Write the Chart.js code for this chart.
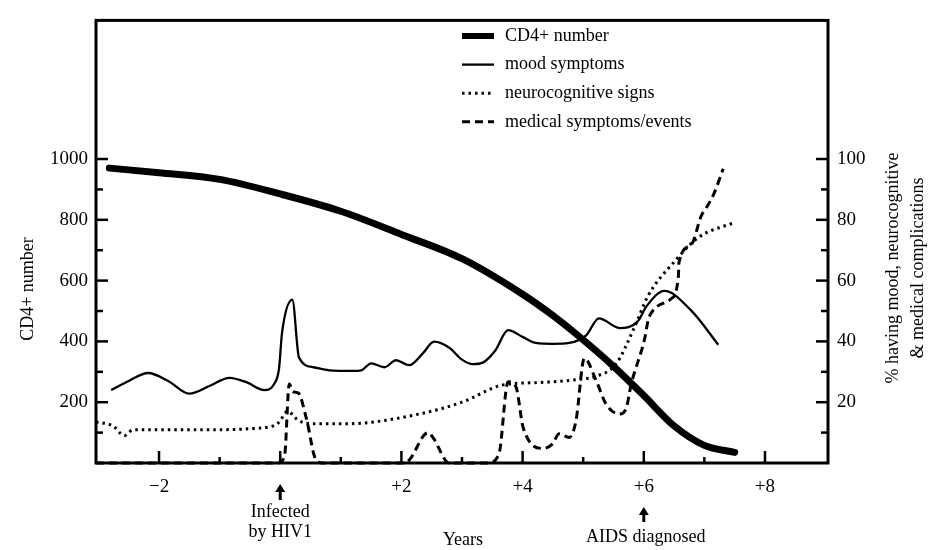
<!DOCTYPE html>
<html>
<head>
<meta charset="utf-8">
<title>CD4+ number and complications over years</title>
<script src="https://cdn.jsdelivr.net/npm/chart.js@4.4.1/dist/chart.umd.min.js"></script>
<style>
  body { margin: 0; background: #fff; }
  canvas { display: block; }
</style>
</head>
<body>
<canvas id="chart" width="933" height="550"></canvas>
<script>
// --- Data (years relative to HIV1 infection) ---
const cd4Years  = [-2.82, -2, -1, 0, 1, 2, 3, 4, 4.5, 5, 5.5, 6, 6.5, 7, 7.5];
const cd4Counts = [970, 955, 933, 885, 828, 752, 672, 555, 485, 405, 318, 222, 122, 58, 35];

const moodYears = [-2.79, -2.5, -2.18, -1.85, -1.5, -1.15, -0.84, -0.55, -0.26, -0.1, -0.02, 0.03, 0.2, 0.31,
                   0.55, 0.81, 1.2, 1.34, 1.5, 1.72, 1.91, 2.13, 2.35, 2.54, 2.79, 3.0, 3.18, 3.35, 3.55,
                   3.76, 4.0, 4.22, 4.5, 4.77, 5.05, 5.26, 5.6, 5.9, 6.04, 6.34, 6.78, 7.23];
const moodPct   = [24, 27, 29.6, 27, 22.8, 25.5, 28, 26.5, 24, 26, 31, 42.8, 53.7, 34.7,
                   31.5, 30.5, 30.3, 30.5, 32.8, 31.5, 33.8, 32.2, 36, 39.9, 37.9, 34, 32.5, 33.1, 37,
                   43.7, 41.5, 39.5, 39.2, 39.5, 42, 47.6, 44.4, 46.6, 51.4, 56.6, 50.2, 38.9];

const neuroYears = [-3.04, -2.76, -2.57, -2.43, -1.39, -0.28, -0.03, 0.12, 0.3, 0.54, 1.09, 2.29, 3.0,
                    3.68, 4.3, 4.93, 5.21, 5.54, 5.84, 6.07, 6.49, 6.91, 7.49];
const neuroPct   = [13.5, 12.2, 9, 10.9, 10.9, 11.6, 13.2, 17, 14, 12.9, 12.9, 16.1, 20,
                    25.7, 26.5, 27.5, 28.5, 32.5, 44.4, 55, 65.9, 74.3, 79.1];

const medYears = [-3.04, -0.05, 0.07, 0.15, 0.21, 0.3, 0.43, 0.59, 0.7, 2.05, 2.13, 2.44, 2.52, 2.79,
                  3.43, 3.61, 3.76, 3.89, 4.01, 4.34, 4.5, 4.6, 4.77, 4.88, 5.02, 5.21, 5.38, 5.6,
                  5.71, 5.79, 6.01, 6.09, 6.45, 6.57, 6.58, 6.78, 6.95, 7.03, 7.16, 7.31];
const medPct   = [0, 0, 2, 26, 23.5, 23, 14.8, 1, 0, 0, 1, 10, 8.4, 0,
                  0, 3, 26.7, 25.1, 11.6, 4.8, 6.4, 9.6, 8.4, 13.8, 34.5, 27.3, 19.3, 16.1,
                  18, 25.7, 40.5, 48.2, 54, 61.1, 65.9, 71.7, 81.4, 83.9, 88.7, 96.8];

const yearLabels = [-2, 2, 4, 6, 8];
const cd4Labels  = [200, 400, 600, 800, 1000];
const pctLabels  = [20, 40, 60, 80, 100];

const FONT = '"Liberation Serif", "Times New Roman", serif';
const toPoints = (xs, ys) => xs.map((x, i) => ({ x, y: ys[i] }));

// --- Extra drawing: frame, inward ticks, legend, titles, arrows ---
function strokeLine(ctx, x1, y1, x2, y2) {
    ctx.beginPath();
    ctx.moveTo(x1, y1);
    ctx.lineTo(x2, y2);
    ctx.stroke();
}

function drawArrow(ctx, x, yTop, yBottom) {
    ctx.lineWidth = 3;
    strokeLine(ctx, x, yBottom, x, yTop + 5);
    ctx.beginPath();
    ctx.moveTo(x, yTop);
    ctx.lineTo(x - 5, yTop + 8);
    ctx.lineTo(x + 5, yTop + 8);
    ctx.closePath();
    ctx.fill();
}

const figureExtras = {
    id: 'figureExtras',
    afterDatasetsDraw(chart) {
        const { ctx, chartArea: a, scales: { x, y, y1 } } = chart;
        ctx.save();
        ctx.strokeStyle = '#000';
        ctx.fillStyle = '#000';
        ctx.lineWidth = 3;
        ctx.strokeRect(a.left, a.top, a.right - a.left, a.bottom - a.top);

        // tick marks point into the plot
        ctx.lineWidth = 2.5;
        x.ticks.forEach(t => {
            const v = t.value;
            if (!Number.isInteger(v) || v < -2 || v > 8) return;
            const px = x.getPixelForValue(v);
            strokeLine(ctx, px, a.bottom, px, a.bottom - (v % 2 === 0 ? 12 : 6));
        });
        y.ticks.forEach(t => {
            const v = t.value;
            if (v < 100 || v > 1000 || v % 100 !== 0) return;
            const py = y.getPixelForValue(v);
            strokeLine(ctx, a.left, py, a.left + (v % 200 === 0 ? 12 : 7), py);
        });
        y1.ticks.forEach(t => {
            const v = t.value;
            if (v < 10 || v > 100 || v % 10 !== 0) return;
            const py = y1.getPixelForValue(v);
            strokeLine(ctx, a.right, py, a.right - (v % 20 === 0 ? 12 : 7), py);
        });

        // legend
        ctx.font = `18px ${FONT}`;
        ctx.textBaseline = 'middle';
        ctx.textAlign = 'left';
        chart.data.datasets.forEach((ds, i) => {
            const ly = 36 + i * 28.6;
            ctx.save();
            ctx.lineWidth = ds.legendWidth || ds.borderWidth;
            ctx.setLineDash(ds.borderDash || []);
            strokeLine(ctx, 462, ly, 494, ly);
            ctx.restore();
            ctx.fillText(ds.label, 505, ly);
        });

        // axis titles
        ctx.textAlign = 'center';
        ctx.save();
        ctx.translate(28, 289);
        ctx.rotate(-Math.PI / 2);
        ctx.fillText('CD4+ number', 0, 0);
        ctx.restore();
        ctx.save();
        ctx.translate(893, 268);
        ctx.rotate(-Math.PI / 2);
        ctx.fillText('% having mood, neurocognitive', 0, 0);
        ctx.fillText('& medical complications', 0, 25);
        ctx.restore();

        // bottom annotations
        const infX = x.getPixelForValue(0);
        drawArrow(ctx, infX, 484, 500);
        ctx.fillText('Infected', infX, 512);
        ctx.fillText('by HIV1', infX, 532);
        ctx.fillText('Years', 463, 540);
        const aidsX = x.getPixelForValue(6);
        drawArrow(ctx, aidsX, 507, 522);
        ctx.fillText('AIDS diagnosed', aidsX + 2, 537);
        ctx.restore();
    }
};

const tickFont = { family: FONT, size: 19 };

new Chart(document.getElementById('chart'), {
    type: 'line',
    data: {
        datasets: [
            { label: 'CD4+ number', data: toPoints(cd4Years, cd4Counts), yAxisID: 'y',
              borderColor: '#000', borderWidth: 7, legendWidth: 6, borderCapStyle: 'round' },
            { label: 'mood symptoms', data: toPoints(moodYears, moodPct), yAxisID: 'y1',
              borderColor: '#000', borderWidth: 2.3 },
            { label: 'neurocognitive signs', data: toPoints(neuroYears, neuroPct), yAxisID: 'y1',
              borderColor: '#000', borderWidth: 3, borderDash: [2.5, 4] },
            { label: 'medical symptoms/events', data: toPoints(medYears, medPct), yAxisID: 'y1',
              borderColor: '#000', borderWidth: 3, borderDash: [8, 5] }
        ]
    },
    options: {
        responsive: false,
        animation: false,
        clip: false,
        layout: { padding: { top: 10, left: 0, right: 0, bottom: 0 } },
        elements: {
            point: { radius: 0 },
            line: { cubicInterpolationMode: 'monotone', fill: false }
        },
        plugins: { legend: { display: false }, tooltip: { enabled: false } },
        scales: {
            x: {
                type: 'linear', min: -3.04, max: 9.04,
                grid: { display: false, drawTicks: false }, border: { display: false },
                afterFit: s => { s.height = 87; },
                ticks: {
                    stepSize: 1, autoSkip: false, maxRotation: 0, padding: 13,
                    color: '#000', font: tickFont,
                    callback: v => yearLabels.includes(v) ? (v < 0 ? '\u2212' + (-v) : '+' + v) : ''
                }
            },
            y: {
                position: 'left', min: 0, max: 1456,
                grid: { display: false, drawTicks: false }, border: { display: false },
                afterFit: s => { s.width = 96; },
                ticks: {
                    stepSize: 100, autoSkip: false, padding: 8,
                    color: '#000', font: tickFont,
                    callback: v => cd4Labels.includes(v) ? String(v) : ''
                }
            },
            y1: {
                position: 'right', min: 0, max: 145.6,
                grid: { display: false, drawTicks: false }, border: { display: false },
                afterFit: s => { s.width = 105; },
                ticks: {
                    stepSize: 10, autoSkip: false, padding: 9,
                    color: '#000', font: tickFont,
                    callback: v => pctLabels.includes(v) ? String(v) : ''
                }
            }
        }
    },
    plugins: [figureExtras]
});
</script>
</body>
</html>
